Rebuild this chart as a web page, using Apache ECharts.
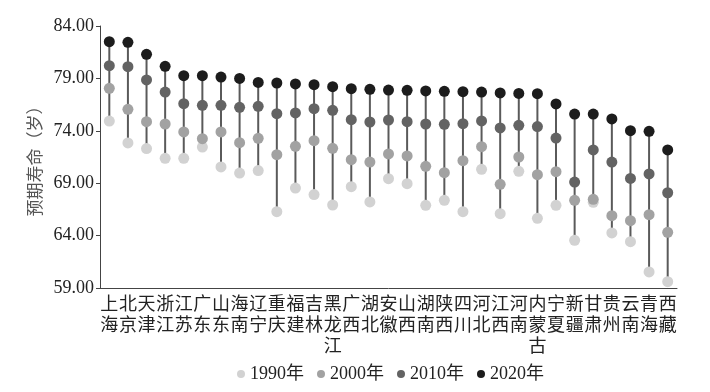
<!DOCTYPE html>
<html><head><meta charset="utf-8">
<script src="https://cdn.jsdelivr.net/npm/echarts@6/dist/echarts.min.js"></script>
<style>html,body{margin:0;padding:0;background:#fff}#c{width:710px;height:392px}</style>
</head><body><div id="c"></div>
<script>
var provinces = ['上海','北京','天津','浙江','江苏','广东','山东','海南','辽宁','重庆','福建','吉林','黑龙江','广西','湖北','安徽','山西','湖南','陕西','四川','河北','江西','河南','内蒙古','宁夏','新疆','甘肃','贵州','云南','青海','西藏'];
var v1990 = [74.93,72.84,72.30,71.37,71.37,72.45,70.55,69.97,70.20,66.28,68.54,67.91,66.92,68.67,67.21,69.43,68.95,66.89,67.37,66.28,70.32,66.09,70.13,65.65,66.89,63.55,67.18,64.25,63.42,60.53,59.60];
var v2000 = [78.05,76.05,74.87,74.65,73.89,73.25,73.89,72.87,73.28,71.72,72.52,73.06,72.33,71.24,71.02,71.79,71.60,70.61,70.00,71.15,72.48,68.89,71.50,69.81,70.10,67.37,67.46,65.90,65.42,66.00,64.31];
var v2010 = [80.21,80.12,78.85,77.70,76.59,76.43,76.43,76.24,76.34,75.63,75.70,76.11,75.95,75.06,74.84,75.03,74.87,74.65,74.62,74.68,74.94,74.27,74.52,74.40,73.31,69.11,72.17,71.02,69.46,69.88,68.09];
var v2020 = [82.50,82.44,81.30,80.15,79.26,79.26,79.13,79.00,78.62,78.56,78.47,78.40,78.21,78.02,77.96,77.89,77.86,77.80,77.77,77.73,77.70,77.61,77.57,77.54,76.56,75.60,75.60,75.13,74.01,73.95,72.17];
var yTicks = [59, 64, 69, 74, 79, 84];
var years = ['1990年','2000年','2010年','2020年'];
var colors = ['#d2d2d2','#a2a2a2','#636363','#1c1c1c'];

var rangeData = provinces.map(function(p, i){
  var vals = [v1990[i], v2000[i], v2010[i], v2020[i]];
  return [i, Math.min.apply(null, vals), Math.max.apply(null, vals)];
});
var allSeries = [v1990, v2000, v2010, v2020];
var serif = "'Liberation Serif','Noto Sans CJK SC',serif";

var chart = echarts.init(document.getElementById('c'), null, {renderer:'canvas'});
var series = [{
  type: 'custom',
  silent: true,
  z: 1,
  data: rangeData,
  renderItem: function(params, api){
    var p1 = api.coord([api.value(0), api.value(1)]);
    var p2 = api.coord([api.value(0), api.value(2)]);
    return {type:'line', shape:{x1:p1[0], y1:p1[1], x2:p2[0], y2:p2[1]}, style:{stroke:'#5a5a5a', lineWidth:2}};
  }
}];
years.forEach(function(y, k){
  series.push({
    name: y, type: 'scatter', z: 2 + k, symbol: 'circle', symbolSize: 11,
    itemStyle: {color: colors[k], opacity: 1},
    data: allSeries[k]
  });
});

chart.setOption({
  animation: false,
  grid: {left: 100, right: 33, top: 26, bottom: 104},
  legend: {
    data: years, top: 360, left: 232, icon: 'circle', itemWidth: 8, itemHeight: 8, itemGap: 13,
    textStyle: {fontFamily: serif, fontSize: 18, color: '#222', padding: [0, 0, 0, 0]}
  },
  xAxis: {
    type: 'category', data: provinces,
    axisLine: {lineStyle: {color: '#444', width: 1}},
    axisTick: {inside: true, length: 5, lineStyle: {color: '#444'}},
    axisLabel: {
      interval: 0, margin: 5, fontFamily: "'Noto Sans CJK SC'", fontSize: 18, lineHeight: 21, color: '#222',
      formatter: function(v){ return v.split('').join('\n'); }
    }
  },
  yAxis: {
    type: 'value', min: 59, max: 84,
    name: '预期寿命（岁）', nameLocation: 'middle', nameRotate: 90, nameGap: 56,
    nameTextStyle: {fontFamily: "'Noto Sans CJK SC'", fontSize: 17, color: '#555'},
    splitLine: {show: false},
    axisLine: {show: true, lineStyle: {color: '#444', width: 1}},
    axisTick: {show: true, length: 4, lineStyle: {color: '#444'}, customValues: yTicks},
    axisLabel: {fontFamily: serif, fontSize: 18, color: '#222', margin: 6, customValues: yTicks,
      formatter: function(v){ return v.toFixed(2); }}
  },
  series: series
});
</script></body></html>
